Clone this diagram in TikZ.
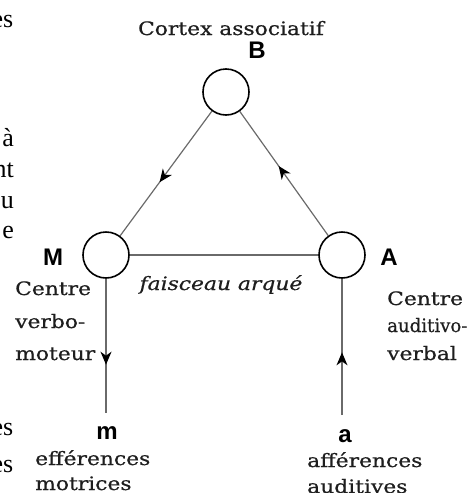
\documentclass[tikz,border=0pt]{standalone}
\usepackage{fontspec}
\usetikzlibrary{arrows.meta,decorations.markings}
\newfontfamily\labfont[FakeStretch=1.18,FakeBold=0.6]{DejaVu Serif}
\newfontfamily\labnarrow[FakeStretch=0.98,FakeBold=0.6]{DejaVu Serif}
\newfontfamily\letfont{Liberation Sans}
\newfontfamily\bodyfont{Liberation Serif}
\definecolor{linegray}{HTML}{6A6A6A}
\definecolor{txt}{HTML}{1E1E1E}
\tikzset{
  centre/.style={circle,draw=black,line width=1.6pt,minimum size=46pt,inner sep=0pt,fill=white},
  conn/.style={draw=linegray,line width=1.2pt},
  midarrow/.style={postaction={decorate},decoration={markings,mark=at position #1 with {\arrow{Stealth[length=13pt,width=11pt,inset=4pt,black]}}}},
  lab/.style={font=\labfont\fontsize{18.5}{21}\selectfont,text=txt,inner sep=0pt,anchor=base west},
  labc/.style={font=\labfont\fontsize{18.5}{21}\selectfont,text=txt,inner sep=0pt,anchor=base},
  letter/.style={font=\letfont\bfseries\fontsize{24}{26}\selectfont,text=black,inner sep=0pt,anchor=base},
  frag/.style={font=\bodyfont\fontsize{26}{30}\selectfont,text=black,inner sep=0pt,anchor=base east}
}
\begin{document}
\begin{tikzpicture}[x=1pt,y=-1pt]
\useasboundingbox (0,0) rectangle (475,493);
% cropped body text at the left edge
\node[frag] (f1) at (13.5,27) {es};
\node[frag] (f2) at (14,146) {à};
\node[frag] (f3) at (14,177) {nt};
\node[frag] (f4) at (14,208) {u};
\node[frag] (f5) at (14,238) {e};
\node[frag] (f6) at (13.5,435) {es};
\node[frag] (f7) at (13.5,472) {es};
% centres
\node[centre] (B) at (226,92) {};
\node[centre] (M) at (106,255) {};
\node[centre] (A) at (342,255) {};
\coordinate (m0) at (106,413);
\coordinate (a0) at (342,415);
% connectors
\draw[conn,midarrow=0.57] (B) -- (M);
\draw[conn,midarrow=0.56] (A) -- (B);
\draw[conn] (M) -- (A);
\draw[conn,midarrow=0.64] (M) -- (m0);
\draw[conn,midarrow=0.46] (a0) -- (A);
% labels
\node[labc] (cortex) at (231,35) {Cortex associatif};
\node[letter] (lB) at (257,58) {B};
\node[letter] (lM) at (53,265) {M};
\node[letter] (lA) at (389,265) {A};
\node[labc,font=\labfont\itshape\fontsize{18.5}{21}\selectfont] (fa) at (221,290) {faisceau arqué};
\node[lab] (cm1) at (15,295) {Centre};
\node[lab] (cm2) at (15,328) {verbo-};
\node[lab] (cm3) at (15,360) {moteur};
\node[lab] (ca1) at (387,305) {Centre};
\node[lab,font=\labnarrow\fontsize{18.5}{21}\selectfont] (ca2) at (387,332) {auditivo-};
\node[lab] (ca3) at (387,360) {verbal};
\node[letter] (lm) at (107,439) {m};
\node[letter] (la) at (345,442) {a};
\node[lab] (em1) at (35,465) {efférences};
\node[lab] (em2) at (35,490) {motrices};
\node[lab] (aa1) at (307,467) {afférences};
\node[lab] (aa2) at (307,493) {auditives};
\end{tikzpicture}
\end{document}
